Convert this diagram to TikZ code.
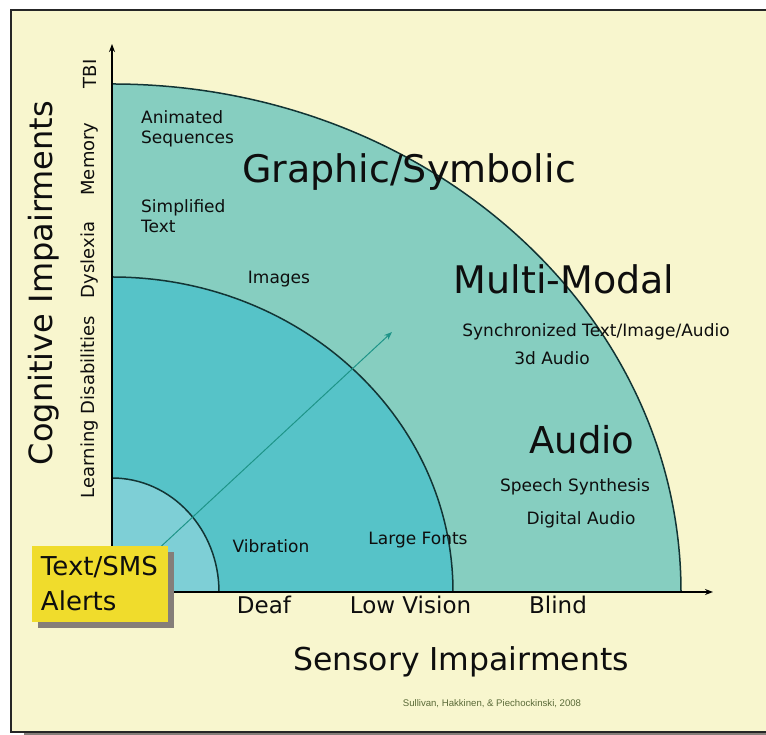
\documentclass[tikz,border=0pt]{standalone}
\usepackage{fontspec}
\setmainfont{DejaVu Sans}
\newfontfamily\citefont{Liberation Sans}
\usetikzlibrary{arrows.meta,shadows}

\definecolor{paper}{HTML}{F8F6CE}
\definecolor{outerband}{HTML}{86CEC0}
\definecolor{midband}{HTML}{56C3C8}
\definecolor{innerband}{HTML}{7ECFD6}
\definecolor{arcline}{HTML}{123434}
\definecolor{alertyellow}{HTML}{F0DC2C}
\definecolor{shadowgray}{HTML}{857E79}
\definecolor{arrowteal}{HTML}{1E9488}
\definecolor{citegreen}{HTML}{5A6A38}
\definecolor{ink}{HTML}{0E0E0E}

\tikzset{
  lbl/.style={inner sep=0pt, text=ink, font=\fontsize{17}{20}\selectfont},
  lbl left/.style={lbl, anchor=west, align=left},
  side/.style={lbl, rotate=90, font=\fontsize{18}{22}\selectfont},
  big/.style={lbl, font=\fontsize{38}{44}\selectfont},
  axislabel/.style={lbl, font=\fontsize{23}{26}\selectfont},
  title/.style={lbl, font=\fontsize{31.5}{38}\selectfont},
  bandarc/.style={draw=arcline, line width=1.5pt},
  axis/.style={draw=black, line width=1.3pt, -{Stealth[length=8pt,width=6pt]}},
  alertbox/.style={fill=alertyellow, inner sep=0pt, minimum width=136pt, minimum height=76pt,
    text width=118pt, align=left, text=ink, font=\fontsize{26}{35}\selectfont,
    drop shadow={shadow xshift=6pt, shadow yshift=-6pt, fill=shadowgray, opacity=1}},
}

\begin{document}
\begin{tikzpicture}[x=1pt,y=1pt]
\useasboundingbox (-112,-143) rectangle (654,592);
\fill[white] (-112,-143) rectangle (654,592);

% framed page with its shadow
\fill[shadowgray] (-88,-143) rectangle (654,-141);
\fill[paper] (-101,-140) rectangle (654,582);
\draw[black!85, line width=1.2pt] (654,582) -- (-101,582) -- (-101,-140) -- (654,-140);

% origin of the two impairment axes
\coordinate (O) at (0,0);
\coordinate (ytip) at (0,548);
\coordinate (xtip) at (601,0);

% three quarter-elliptic bands
\fill[outerband] (O) -- (569,0) arc[start angle=0,end angle=90,x radius=569,y radius=508] -- cycle;
\fill[midband] (O) -- (341,0) arc[start angle=0,end angle=90,x radius=341,y radius=315] -- cycle;
\fill[innerband] (O) -- (107,0) arc[start angle=0,end angle=90,x radius=107,y radius=114] -- cycle;
\draw[bandarc] (569,0) arc[start angle=0,end angle=90,x radius=569,y radius=508];
\draw[bandarc] (341,0) arc[start angle=0,end angle=90,x radius=341,y radius=315];
\draw[bandarc] (107,0) arc[start angle=0,end angle=90,x radius=107,y radius=114];

% diagonal direction arrow
\coordinate (diag) at (280,260);
\draw[arrowteal, line width=1pt, -{Stealth[length=8pt,width=6pt]}] (O) -- (diag);

% axes
\draw[axis] (O) -- (ytip);
\draw[axis] (O) -- (xtip);

% vertical axis labels
\node[lbl, rotate=90, font=\fontsize{32}{38}\selectfont] (cog) at (-68,309) {Cognitive Impairments};
\node[side] (tbi) at (-22,518) {TBI};
\node[side] (mem) at (-22,433) {Memory};
\node[side] (dys) at (-22,332) {Dyslexia};
\node[side] (ld) at (-22,185) {Learning Disabilities};

% band contents
\node[lbl left] (anim) at (29,463) {Animated\\Sequences};
\node[lbl left] (simp) at (29,376) {Simplified\\Text};
\node[big] (graph) at (297,420) {Graphic/Symbolic};
\node[lbl] (img) at (167,313) {Images};
\node[big] (multi) at (452,313) {Multi-Modal};
\node[lbl] (sync) at (484,260) {Synchronized Text/Image/Audio};
\node[lbl] (threed) at (440,234) {3d Audio};
\node[big, font=\fontsize{37}{42}\selectfont] (audio) at (470,152) {Audio};
\node[lbl] (speech) at (463,105) {Speech Synthesis};
\node[lbl] (digital) at (469,72) {Digital Audio};
\node[lbl] (vib) at (159,46) {Vibration};
\node[lbl] (large) at (306,52) {Large Fonts};

% horizontal axis labels
\node[axislabel] (deaf) at (152,-13) {Deaf};
\node[axislabel] (lowv) at (298.5,-13) {Low Vision};
\node[axislabel] (blind) at (446,-13) {Blind};
\node[title] (sens) at (349,-70) {Sensory Impairments};

% alert box over the origin
\node[alertbox] (alerts) at (-12,8) {Text/SMS\\Alerts};

% source
\node[inner sep=0pt, text=citegreen, font=\citefont\fontsize{9.6}{11}\selectfont] (cite) at (380,-112) {Sullivan, Hakkinen, \& Piechockinski, 2008};
\end{tikzpicture}
\end{document}
